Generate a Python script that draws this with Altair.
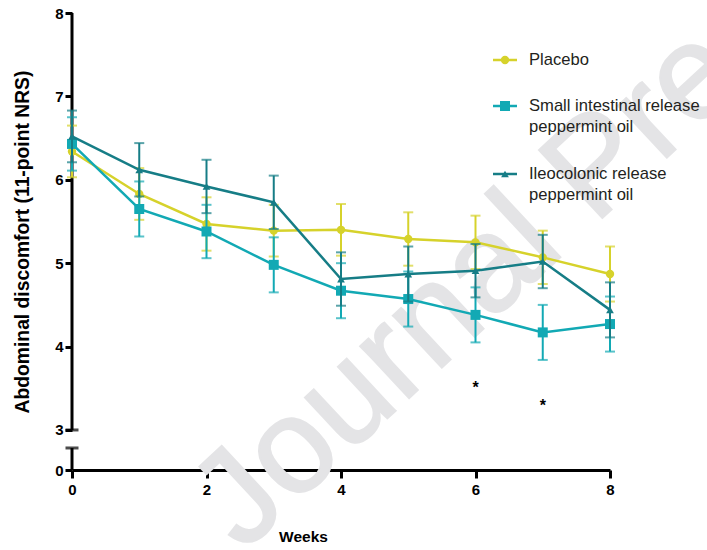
import altair as alt
import pandas as pd

# Mean abdominal discomfort (11-point NRS) per week, with error bar half-widths
weeks = [0, 1, 2, 3, 4, 5, 6, 7, 8]
groups = [
    "Placebo",
    "Small intestinal release peppermint oil",
    "Ileocolonic release peppermint oil",
]
placebo_mean = [6.34, 5.83, 5.47, 5.39, 5.40, 5.29, 5.25, 5.07, 4.87]
placebo_err = [0.31, 0.31, 0.32, 0.31, 0.31, 0.32, 0.32, 0.32, 0.33]
small_mean = [6.43, 5.65, 5.38, 4.98, 4.67, 4.57, 4.38, 4.17, 4.27]
small_err = [0.32, 0.33, 0.32, 0.33, 0.33, 0.33, 0.33, 0.33, 0.33]
ileo_mean = [6.52, 6.12, 5.92, 5.73, 4.81, 4.87, 4.91, 5.02, 4.44]
ileo_err = [0.31, 0.32, 0.32, 0.32, 0.32, 0.33, 0.32, 0.32, 0.33]

# Significance markers (week, height on the score axis)
star_weeks = [6, 7]
star_levels = [3.55, 3.33]

colors = ["#d6d22b", "#12a9b4", "#167d86"]
shapes = ["circle", "square", "triangle-up"]
sizes = [70, 100, 60]
legend_lines = [
    ["Placebo"],
    ["Small intestinal release", "peppermint oil"],
    ["Ileocolonic release", "peppermint oil"],
]

# Broken y axis: 3-8 is drawn to scale, 0 sits just below the break
Y_ZERO_POS = 2.52
BREAK_TOP = 2.784

W, H = 538, 457
FONT = "Liberation Sans"

frames = []
for g, m, e in zip(groups, [placebo_mean, small_mean, ileo_mean],
                   [placebo_err, small_err, ileo_err]):
    frames.append(pd.DataFrame({"week": weeks, "group": g, "mean": m, "err": e}))
df = pd.concat(frames, ignore_index=True)
df["lo"] = df["mean"] - df["err"]
df["hi"] = df["mean"] + df["err"]

x_scale = alt.Scale(domain=[0, 8], nice=False, zero=False)
y_scale = alt.Scale(domain=[Y_ZERO_POS, 8], nice=False, zero=False)

x_axis = alt.Axis(
    values=[0, 2, 4, 6, 8], title="Weeks", grid=False,
    domainColor="black", domainWidth=3, tickColor="black", tickWidth=3,
    tickSize=8, labelPadding=4, labelFontSize=15, labelFontWeight="bold",
    labelColor="black", titleFontSize=15.5, titleFontWeight="bold",
    titleColor="black", titleX=231, titleY=66, titleAlign="center",
    titleBaseline="middle", labelFlush=False,
)
y_axis = alt.Axis(
    values=[Y_ZERO_POS, 3, 4, 5, 6, 7, 8],
    labelExpr="datum.value < 2.9 ? '0' : format(datum.value, 'd')",
    title="Abdominal discomfort (11-point NRS)", grid=False, domain=False,
    tickColor="black", tickWidth=3, tickSize=7, labelPadding=2,
    labelFontSize=15, labelFontWeight="bold", labelColor="black",
    titleFontSize=19.3, titleFontWeight="bold", titleColor="black",
    titleX=-50, titleY=H / 2, titleAngle=270, titleAlign="center",
    titleBaseline="middle", labelFlush=False,
)


def X(field):
    return alt.X(field, scale=x_scale, axis=x_axis, title="Weeks")


def Y(field):
    return alt.Y(field, scale=y_scale, axis=y_axis,
                 title="Abdominal discomfort (11-point NRS)")


base = alt.Chart(df)
layers = []

# Watermark behind everything
layers.append(
    alt.Chart(pd.DataFrame({"t": ["Journal Pre-proof"]})).mark_text(
        font=FONT, fontSize=135, color="#e4e4e6", angle=317,
        align="left", baseline="alphabetic", stroke="#e4e4e6", strokeWidth=2,
    ).encode(x=alt.value(171), y=alt.value(540), text="t:N")
)

# Broken vertical axis line with caps at the break
seg = pd.DataFrame({"x": [0, 0], "y0": [3, Y_ZERO_POS], "y1": [8, BREAK_TOP]})
layers.append(
    alt.Chart(seg).mark_rule(color="black", strokeWidth=3).encode(
        x=X("x:Q"), y=Y("y0:Q"), y2="y1:Q",
    )
)
caps = pd.DataFrame({"x": [0, 0], "y": [3, BREAK_TOP]})
layers.append(
    alt.Chart(caps).mark_tick(color="black", orient="horizontal", size=13, thickness=3).encode(
        x=X("x:Q"), y=Y("y:Q"),
    )
)

for i, g in enumerate(groups):
    c = colors[i]
    sub = base.transform_filter(alt.datum.group == g)
    layers.append(
        sub.mark_rule(color=c, strokeWidth=2).encode(
            x=X("week:Q"), y=Y("lo:Q"), y2="hi:Q"
        )
    )
    for f in ["lo", "hi"]:
        layers.append(
            sub.mark_tick(color=c, orient="horizontal", size=10, thickness=2).encode(
                x=X("week:Q"), y=Y(f"{f}:Q")
            )
        )
    layers.append(
        sub.mark_line(color=c, strokeWidth=2.5).encode(
            x=X("week:Q"), y=Y("mean:Q")
        )
    )
    layers.append(
        sub.mark_point(color=c, filled=True, opacity=1, shape=shapes[i], size=sizes[i]).encode(
            x=X("week:Q"), y=Y("mean:Q")
        )
    )

# Significance asterisks
stars = pd.DataFrame({"week": star_weeks, "y": star_levels, "s": ["*", "*"]})
layers.append(
    alt.Chart(stars).mark_text(
        font=FONT, fontSize=16, fontWeight="bold", color="black",
        baseline="alphabetic", dy=9,
    ).encode(x=X("week:Q"), y=Y("y:Q"), text="s:N")
)

# Legend block
legend_y = [47, 93, 161]
line_gap = 21
for i, g in enumerate(groups):
    c = colors[i]
    ly = legend_y[i]
    one = alt.Chart(pd.DataFrame({"group": [g]}))
    layers.append(
        one.mark_rule(color=c, strokeWidth=2.5).encode(
            x=alt.value(421), x2=alt.value(445), y=alt.value(ly)
        )
    )
    layers.append(
        one.mark_point(color=c, filled=True, opacity=1, shape=shapes[i], size=sizes[i]).encode(
            x=alt.value(433), y=alt.value(ly)
        )
    )
    for k, txt in enumerate(legend_lines[i]):
        layers.append(
            one.mark_text(
                font=FONT, fontSize=16.6, color="#231f20", align="left", baseline="middle",
            ).encode(x=alt.value(457), y=alt.value(ly + k * line_gap), text=alt.value(txt))
        )

chart = (
    alt.layer(*layers)
    .properties(
        width=W, height=H, autosize="none",
        padding={"left": 72, "top": 13, "right": 707 - 72 - W, "bottom": 550 - 13 - H},
    )
    .configure_view(stroke=None)
    .configure_axis(labelFont=FONT, titleFont=FONT)
)

chart.save("out.html", embed_options={"renderer": "svg", "actions": False})
